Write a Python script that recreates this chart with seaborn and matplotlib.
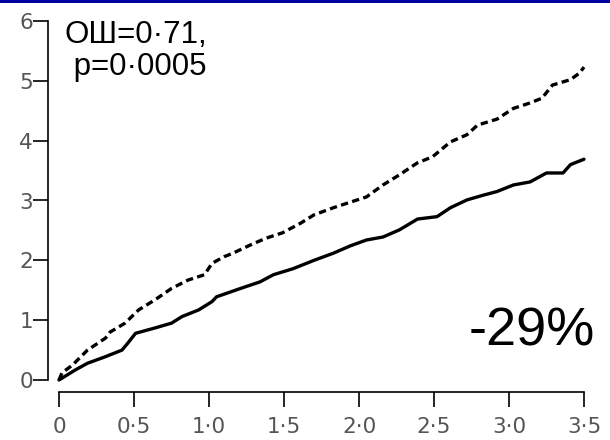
import pandas as pd
import matplotlib.pyplot as plt
from matplotlib.patches import Rectangle
import seaborn as sns

t_solid = [0, 0.11, 0.19, 0.31, 0.42, 0.46, 0.51, 0.64, 0.75, 0.82, 0.93, 1.02,
           1.05, 1.21, 1.34, 1.43, 1.56, 1.70, 1.83, 1.94, 2.05, 2.16, 2.27,
           2.39, 2.52, 2.61, 2.72, 2.83, 2.92, 3.03, 3.14, 3.25, 3.36, 3.41, 3.5]
v_solid = [0, 0.17, 0.28, 0.39, 0.50, 0.62, 0.78, 0.87, 0.95, 1.06, 1.17, 1.31,
           1.39, 1.53, 1.64, 1.76, 1.86, 2.00, 2.12, 2.24, 2.34, 2.39, 2.51,
           2.69, 2.73, 2.88, 3.01, 3.09, 3.15, 3.26, 3.31, 3.46, 3.46, 3.60, 3.69]

t_dash = [0, 0.02, 0.09, 0.19, 0.31, 0.34, 0.44, 0.53, 0.64, 0.75, 0.86, 0.97,
          1.02, 1.10, 1.16, 1.27, 1.38, 1.49, 1.61, 1.70, 1.83, 1.94, 2.05,
          2.16, 2.27, 2.39, 2.49, 2.61, 2.72, 2.79, 2.92, 3.03, 3.14, 3.22,
          3.29, 3.41, 3.47, 3.5]
v_dash = [0, 0.12, 0.25, 0.50, 0.70, 0.80, 0.95, 1.17, 1.34, 1.53, 1.67, 1.76,
          1.95, 2.06, 2.12, 2.25, 2.37, 2.46, 2.62, 2.76, 2.88, 2.97, 3.06,
          3.26, 3.43, 3.63, 3.73, 3.98, 4.10, 4.26, 4.36, 4.54, 4.63, 4.71,
          4.93, 5.02, 5.13, 5.23]

x_ticks = [0, 0.5, 1.0, 1.5, 2.0, 2.5, 3.0, 3.5]
x_labels = ['0', '0·5', '1·0', '1·5', '2·0', '2·5', '3·0', '3·5']
y_ticks = [0, 1, 2, 3, 4, 5, 6]

sns.set_style("ticks")
plt.rcParams['font.family'] = ['Liberation Sans', 'DejaVu Sans']

df_solid = pd.DataFrame({'t': t_solid, 'v': v_solid})
df_dash = pd.DataFrame({'t': t_dash, 'v': v_dash})

fig = plt.figure(figsize=(6.1, 4.4), dpi=100)
ax = fig.add_axes([59 / 610, 60 / 440, 525 / 610, 359 / 440])

sns.lineplot(data=df_solid, x='t', y='v', ax=ax, color='black', lw=2.4, clip_on=False)
sns.lineplot(data=df_dash, x='t', y='v', ax=ax, color='black', lw=2.4,
             linestyle=(0, (2.2, 1.3)), clip_on=False)

ax.set_xlim(0, 3.5)
ax.set_ylim(0, 6)
ax.set_xticks(x_ticks)
ax.set_xticklabels(x_labels)
ax.set_yticks(y_ticks)
ax.set_xlabel('')
ax.set_ylabel('')

sns.despine(ax=ax)
ax.spines['left'].set_position(('outward', 7.6))
ax.spines['bottom'].set_position(('outward', 8.6))
for s in ['left', 'bottom']:
    ax.spines[s].set_linewidth(1.2)
    ax.spines[s].set_color('black')
ax.tick_params(axis='both', colors='black', labelcolor='#555555', labelsize=15.5,
               width=1.2, length=11)
ax.tick_params(axis='y', pad=0)
ax.tick_params(axis='x', pad=7)
for lab in ax.get_xticklabels() + ax.get_yticklabels():
    lab.set_family('DejaVu Sans')

fig.text(65 / 610, 1 - 43 / 440, 'ОШ=0·71,', fontsize=22.5, va='baseline', color='black')
fig.text(65 / 610, 1 - 75 / 440, ' p=0·0005', fontsize=22.5, va='baseline', color='black')
fig.text(595 / 610, 1 - 345 / 440, '-29%', fontsize=39, ha='right', va='baseline',
         color='black')

# синяя полоса сверху
fig.add_artist(Rectangle((0, 1 - 3.5 / 440), 1, 3.5 / 440, transform=fig.transFigure,
                         color='#0000a0', lw=0))

fig.savefig('out.png', dpi=100)
